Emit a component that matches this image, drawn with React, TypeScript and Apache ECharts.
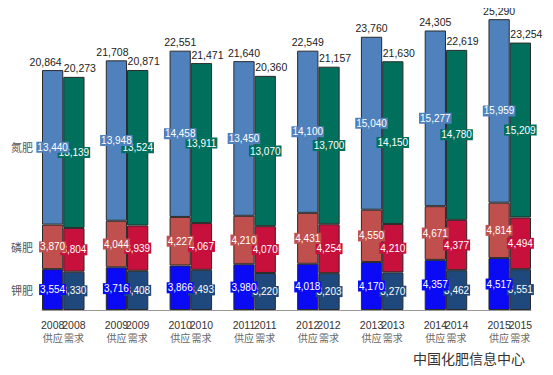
import React, { useEffect, useRef } from "react";
import * as echarts from "echarts";

const years = ["2008", "2009", "2010", "2011", "2012", "2013", "2014", "2015"];
const kinds = ["供应", "需求"];
const fertNames = ["氮肥", "磷肥", "钾肥"];

const supplyN = [13440, 13948, 14458, 13450, 14100, 15040, 15277, 15959];
const supplyP = [3870, 4044, 4227, 4210, 4431, 4550, 4671, 4814];
const supplyK = [3554, 3716, 3866, 3980, 4018, 4170, 4357, 4517];
const supplyTotal = [20864, 21708, 22551, 21640, 22549, 23760, 24305, 25290];

const demandN = [13139, 13524, 13911, 13070, 13700, 14150, 14780, 15209];
const demandP = [3804, 3939, 4067, 4070, 4254, 4210, 4377, 4494];
const demandK = [3330, 3408, 3493, 3220, 3203, 3270, 3462, 3551];
const demandTotal = [20273, 20871, 21471, 20360, 21157, 21630, 22619, 23254];

const sourceText = "中国化肥信息中心";

// slot layout: supply, demand, blank (between groups)
const slots: { year: number; kind: number }[] = [];
years.forEach((_, i) => {
  slots.push({ year: i, kind: 0 });
  slots.push({ year: i, kind: 1 });
  if (i < years.length - 1) slots.push({ year: -1, kind: -1 });
});
const categories = slots.map((s) => (s.year < 0 ? "" : `${years[s.year]}\n${kinds[s.kind]}`));

const fmt = (v: number) => v.toLocaleString("en-US");
const FONT = "'Liberation Sans Narrow', 'Liberation Sans', Arial, sans-serif";
const CJK = "'Noto Sans CJK SC', sans-serif";

function makeSeries(name: string, kind: number, values: number[], color: string) {
  return {
    name,
    type: "bar",
    stack: "all",
    barCategoryGap: "0%",
    barGap: "0%",
    data: slots.map((s) => (s.kind === kind ? values[s.year] : "-")),
    itemStyle: { color, borderColor: "#2a2a2a", borderWidth: 1 },
    label: {
      show: true,
      position: "inside",
      formatter: (p: any) => fmt(p.value),
      color: "#fff",
      fontSize: 10,
      fontFamily: FONT,
      backgroundColor: color,
      padding: [1, 1, 0, 1],
    },
  };
}

export default function App() {
  const ref = useRef<HTMLDivElement>(null);
  useEffect(() => {
    if (!ref.current) return;
    const chart = echarts.init(ref.current, undefined, { renderer: "svg" });
    const totalOffsets: Record<number, number> = { 0: -7, 1: -4 };
    const option: any = {
      animation: false,
      backgroundColor: "#fff",
      grid: { left: 42, right: 22, top: 11, bottom: 65 },
      xAxis: {
        type: "category",
        data: categories,
        axisLine: { lineStyle: { color: "#999", width: 1 } },
        axisTick: { show: false },
        axisLabel: {
          interval: 0,
          margin: 9,
          fontSize: 10,
          fontFamily: FONT,
          lineHeight: 12,
          formatter: (v: string) => {
            if (!v) return "";
            const [y, k] = v.split("\n");
            return `{y|${y}}\n{k|${k}}`;
          },
          rich: {
            y: { color: "#333", fontSize: 10.5, fontFamily: FONT, lineHeight: 12 },
            k: { color: "#666", fontSize: 10, fontFamily: CJK, lineHeight: 12 },
          },
        },
      },
      yAxis: { type: "value", min: 0, max: 26000, show: false },
      series: [
        makeSeries("需求钾肥", 1, demandK, "#1F497D"),
        makeSeries("需求磷肥", 1, demandP, "#C8103C"),
        makeSeries("需求氮肥", 1, demandN, "#00705C"),
        makeSeries("供应钾肥", 0, supplyK, "#0A0AF5"),
        makeSeries("供应磷肥", 0, supplyP, "#C0504D"),
        makeSeries("供应氮肥", 0, supplyN, "#4F81BD"),
        {
          name: "合计",
          type: "bar",
          stack: "all",
          barCategoryGap: "0%",
          itemStyle: { color: "rgba(0,0,0,0)", borderWidth: 0 },
          data: slots.map((s) => {
            if (s.kind < 0) return "-";
            const off = s.kind === 0 ? totalOffsets[s.year] ?? 0 : 6;
            return { value: 0, label: { offset: [off, 0] } };
          }),
          label: {
            show: true,
            position: "top",
            distance: 3,
            color: "#222",
            fontSize: 10.5,
            fontFamily: FONT,
            formatter: (p: any) => {
              const s = slots[p.dataIndex];
              return fmt(s.kind === 0 ? supplyTotal[s.year] : demandTotal[s.year]);
            },
          },
        },
      ],
    };
    chart.setOption(option);

    // series name labels on the left, aligned with the first supply column's segments
    const segs = [
      supplyK[0] + supplyP[0] + supplyN[0] / 2,
      supplyK[0] + supplyP[0] / 2,
      supplyK[0] / 2,
    ];
    const barW = chart.convertToPixel({ xAxisIndex: 0 }, 1) - chart.convertToPixel({ xAxisIndex: 0 }, 0);
    const graphics: any[] = fertNames.map((n, i) => {
      const pt = chart.convertToPixel({ xAxisIndex: 0, yAxisIndex: 0 }, [0, segs[i]]) as number[];
      return {
        type: "text",
        x: pt[0] - barW / 2 - 9,
        y: pt[1],
        style: {
          text: n,
          align: "right",
          verticalAlign: "middle",
          fill: "#555",
          fontSize: 11,
          fontFamily: CJK,
        },
      };
    });
    graphics.push({
      type: "text",
      right: 28,
      top: 351,
      style: {
        text: sourceText,
        fill: "#333",
        fontSize: 14,
        fontFamily: CJK,
      },
    });
    chart.setOption({ graphic: graphics });

    return () => chart.dispose();
  }, []);
  return <div ref={ref} style={{ width: 553, height: 375, margin: -8 }} />;
}
